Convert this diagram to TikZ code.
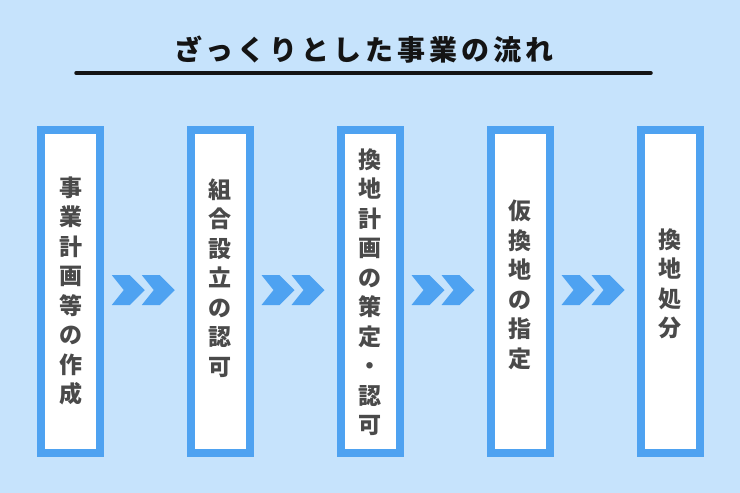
\documentclass[tikz,border=0pt]{standalone}
\usepackage{fontspec}
\newfontfamily\cjk{Noto Sans CJK JP Black}
\usetikzlibrary{calc}
\definecolor{bg}{HTML}{C6E3FC}
\definecolor{bord}{HTML}{4EA2F1}
\definecolor{txt}{HTML}{4A4A4A}
\definecolor{ttl}{HTML}{141414}
\tikzset{
  stepbox/.style={draw=bord, line width=8pt, fill=white, minimum width=59pt, minimum height=323pt, inner sep=0pt},
  steptext/.style={text=txt, font=\cjk\fontsize{23}{29.5}\selectfont, align=center, inner sep=0pt},
  chevfill/.style={fill=bord},
}
\newcommand{\mychevpair}[1]{%
  \fill[chevfill, shift={(#1)}] (-31.5,-15) -- (-13.5,-15) -- (1.5,0) -- (-13.5,15) -- (-31.5,15) -- (-19.5,0) -- cycle;
  \fill[chevfill, shift={(#1)}] (-1.5,-15) -- (16.5,-15) -- (31.5,0) -- (16.5,15) -- (-1.5,15) -- (10.5,0) -- cycle;
}
\begin{document}
\begin{tikzpicture}[x=1pt, y=-1pt]
  \fill[bg] (0,0) rectangle (740,493);
  \useasboundingbox (0,0) rectangle (740,493);
  % title
  \node[text=ttl, font=\cjk\fontsize{28}{28}\selectfont, inner sep=0pt] (title) at (364,50) {ざ\hspace{4pt}っ\hspace{4pt}く\hspace{4pt}り\hspace{4pt}と\hspace{4pt}し\hspace{4pt}た\hspace{4pt}事\hspace{4pt}業\hspace{4pt}の\hspace{4pt}流\hspace{4pt}れ};
  \coordinate (lineL) at (76,73);
  \coordinate (lineR) at (651,73);
  \draw[ttl, line width=3.5pt, line cap=round] (lineL) -- (lineR);
  % boxes
  \node[stepbox] (b1) at (70.5,291.5) {};
  \node[stepbox] (b2) at (220,291.5) {};
  \node[stepbox] (b3) at (370,291.5) {};
  \node[stepbox] (b4) at (520,291.5) {};
  \node[stepbox] (b5) at (670,291.5) {};
  % texts
  \node[steptext] (t1) at (70.5,291) {事\\業\\計\\画\\等\\の\\作\\成};
  \node[steptext] (t2) at (220,278) {組\\合\\設\\立\\の\\認\\可};
  \node[steptext] (t3) at (370,292) {換\\地\\計\\画\\の\\策\\定\\・\\認\\可};
  \node[steptext] (t4) at (520,285) {仮\\換\\地\\の\\指\\定};
  \node[steptext] (t5) at (670,284) {換\\地\\処\\分};
  % chevrons
  \coordinate (c1) at ($(b1.east)!0.5!(b2.west)+(-2,-1.5)$);
  \coordinate (c2) at ($(b2.east)!0.5!(b3.west)+(-2,-1.5)$);
  \coordinate (c3) at ($(b3.east)!0.5!(b4.west)+(-2,-1.5)$);
  \coordinate (c4) at ($(b4.east)!0.5!(b5.west)+(-2,-1.5)$);
  \mychevpair{c1}
  \mychevpair{c2}
  \mychevpair{c3}
  \mychevpair{c4}
\end{tikzpicture}
\end{document}
